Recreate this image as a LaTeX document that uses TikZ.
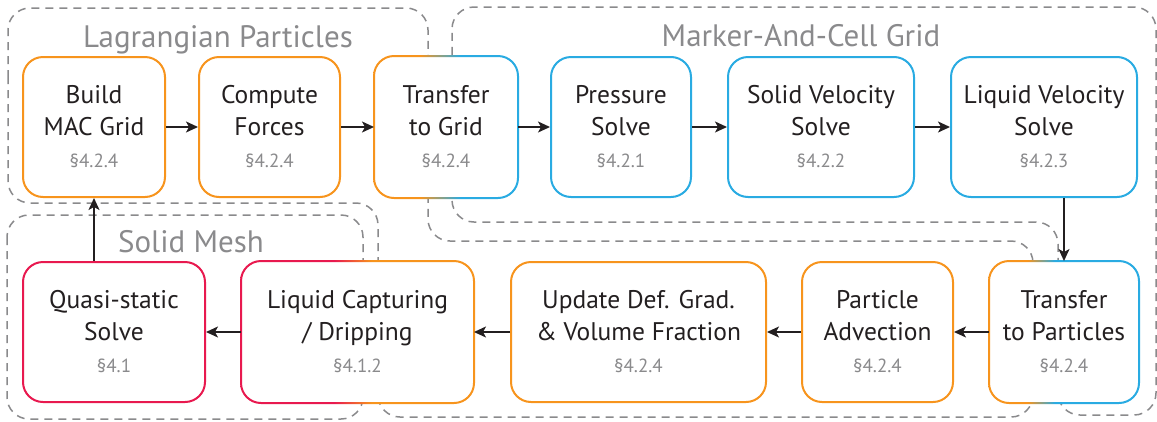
\documentclass[tikz,border=0pt]{standalone}
\usepackage{fontspec}
\setmainfont{PT Sans}
\usetikzlibrary{arrows.meta}

\definecolor{cOrange}{HTML}{F7941D}
\definecolor{cBlue}{HTML}{29ABE2}
\definecolor{cRed}{HTML}{E8194F}
\definecolor{cGray}{HTML}{8A8A8C}
\definecolor{cText}{HTML}{231F20}

% border shadings for the boxes that sit on two regions
\pgfdeclarehorizontalshading{gridshade}{100bp}{color(0bp)=(cOrange); color(41bp)=(cOrange); color(55bp)=(cBlue); color(100bp)=(cBlue)}
\pgfdeclarehorizontalshading{partshade}{100bp}{color(0bp)=(cOrange); color(38bp)=(cOrange); color(47bp)=(cBlue); color(100bp)=(cBlue)}
\pgfdeclarehorizontalshading{meshshade}{100bp}{color(0bp)=(cRed); color(45bp)=(cRed); color(53bp)=(cOrange); color(100bp)=(cOrange)}

\newcommand{\sectag}[1]{{\color{cGray}\fontsize{19}{20}\selectfont\S#1}}
\newcommand{\ringshade}[2]{%
  \shade[shading=#2, even odd rule]
    [rounded corners=21pt] ([shift={(-1pt,1pt)}]#1.north west) rectangle ([shift={(1pt,-1pt)}]#1.south east)
    [rounded corners=19pt] ([shift={(1pt,-1pt)}]#1.north west) rectangle ([shift={(-1pt,1pt)}]#1.south east);}

\tikzset{
  stage/.style={draw, rounded corners=20pt, line width=2pt, fill=white, minimum height=140pt,
    align=center, text=cText, font=\fontsize{25.5}{32}\selectfont, inner sep=0pt},
  mixstage/.style={stage, draw=none},
  region/.style={draw=cGray, dash pattern=on 8pt off 6pt, line width=1.5pt, rounded corners=22pt},
  title/.style={text=cGray, font=\fontsize{31}{32}\selectfont, anchor=base},
  arr/.style={-{Stealth[length=12pt,width=11pt,inset=3pt]}, line width=1.5pt, draw=cText},
}

\begin{document}
\begin{tikzpicture}[x=1pt, y=-1pt]
			\useasboundingbox (0,0) rectangle (1157,421);

			% regions
			\draw[region] (8,100) -- (8,8) -- (428,8) -- (428,241) -- (1033,241) -- (1033,417)
				-- (378,417) -- (378,203) -- (8,203) -- cycle;
			\draw[region] (1156,200) -- (1156,7) -- (452,7) -- (452,222) -- (1058,222)
				-- (1058,415) -- (1156,415) -- cycle;
			\draw[region] (7,215) rectangle (363,419);

			\node	(lag) at (218,47) [title] {Lagrangian Particles};
			\node	(mac) at (801,46) [title] {Marker-And-Cell Grid};
			\node	(mesh) at (191,252) [title] {Solid Mesh};

			% top row
			\node	(BM) at (94,127) [stage, draw=cOrange, minimum width=142pt] {Build\\MAC Grid\\\sectag{4.2.4}};
			\node	(CF) at (269.5,127) [stage, draw=cOrange, minimum width=141pt] {Compute\\Forces\\\sectag{4.2.4}};
			\node	(TG) at (446,127) [mixstage, minimum width=142pt] {Transfer\\to Grid\\\sectag{4.2.4}};
			\node	(PS) at (621,127) [stage, draw=cBlue, minimum width=140pt] {Pressure\\Solve\\\sectag{4.2.1}};
			\node	(SV) at (821,127) [stage, draw=cBlue, minimum width=186pt] {Solid Velocity\\Solve\\\sectag{4.2.2}};
			\node	(LV) at (1044,127) [stage, draw=cBlue, minimum width=186pt] {Liquid Velocity\\Solve\\\sectag{4.2.3}};

			% bottom row
			\node	(TP) at (1064,332) [mixstage, minimum width=148pt] {Transfer\\to Particles\\\sectag{4.2.4}};
			\node	(PA) at (877.5,332) [stage, draw=cOrange, minimum width=151pt] {Particle\\Advection\\\sectag{4.2.4}};
			\node	(UD) at (638.5,332) [stage, draw=cOrange, minimum width=255pt] {Update Def. Grad.\\\& Volume Fraction\\\sectag{4.2.4}};
			\node	(LC) at (357.5,332) [mixstage, minimum width=231pt] {Liquid Capturing\\/ Dripping\\\sectag{4.1.2}};
			\node	(QS) at (114,332) [stage, draw=cRed, minimum width=182pt] {Quasi-static\\Solve\\\sectag{4.1}};

			\ringshade{TG}{gridshade}
			\ringshade{TP}{partshade}
			\ringshade{LC}{meshshade}

			\draw 
			(BM) edge[arr] (CF)
			(CF) edge[arr] (TG)
			(TG) edge[arr] (PS)
			(PS) edge[arr] (SV)
			(SV) edge[arr] (LV)
			(TP.north |- LV.south) edge[arr] (TP)
			(TP) edge[arr] (PA)
			(PA) edge[arr] (UD)
			(UD) edge[arr] (LC)
			(LC) edge[arr] (QS)
			(BM.south |- QS.north) edge[arr] (BM)
			;
		\end{tikzpicture}
\end{document}
